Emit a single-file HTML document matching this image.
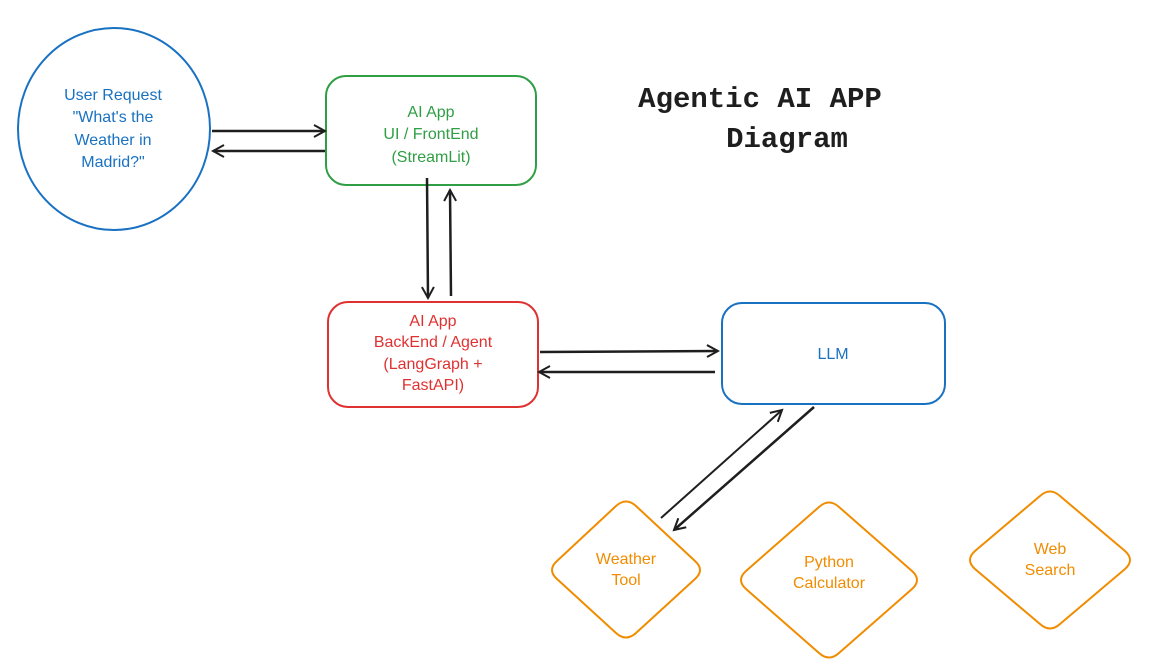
<!DOCTYPE html>
<html><head><meta charset="utf-8"><style>
html,body{margin:0;padding:0;background:#fff;}
svg{display:block}
text{font-family:"Liberation Sans",sans-serif;font-size:16px;text-anchor:middle;font-weight:500}
</style></head><body>
<svg width="1167" height="672" viewBox="0 0 1167 672" xmlns="http://www.w3.org/2000/svg">
<defs>
<marker id="a" markerWidth="14" markerHeight="14" refX="12" refY="7" orient="auto" markerUnits="userSpaceOnUse">
<path d="M1,1 L12,7 L1,13" fill="none" stroke="#1e1e1e" stroke-width="2"/>
</marker>
</defs>
<ellipse cx="114" cy="129" rx="96" ry="101" fill="none" stroke="#1971c2" stroke-width="2"/>
<g fill="#1971c2"><text x="113" y="100">User Request</text><text x="113" y="122">"What's the</text><text x="113" y="145">Weather in</text><text x="113" y="167">Madrid?"</text></g>
<rect x="326" y="76" width="210" height="109" rx="20" fill="none" stroke="#2f9e44" stroke-width="2"/>
<g fill="#2f9e44"><text x="431" y="117">AI App</text><text x="431" y="139">UI / FrontEnd</text><text x="431" y="162">(StreamLit)</text></g>
<rect x="328" y="302" width="210" height="105" rx="20" fill="none" stroke="#e03131" stroke-width="2"/>
<g fill="#e03131"><text x="433" y="326">AI App</text><text x="433" y="347">BackEnd / Agent</text><text x="433" y="369">(LangGraph +</text><text x="433" y="390">FastAPI)</text></g>
<rect x="722" y="303" width="223" height="101" rx="20" fill="none" stroke="#1971c2" stroke-width="2"/>
<text x="833" y="359" fill="#1971c2" font-size="15">LLM</text>
<g fill="none" stroke="#f08c00" stroke-width="2" stroke-linejoin="round">
<path d="M616,506 Q626,497 636,506 L695,561 Q705,570 695,579 L636,633 Q626,642 616,633 L557,579 Q547,570 557,561 Z"/>
<path d="M819,507 Q829,498 839,507 L912,571 Q922,580 912,589 L839,653 Q829,662 819,653 L746,589 Q736,580 746,571 Z"/>
<path d="M1040,496 Q1050,487 1060,496 L1125,551 Q1135,560 1125,569 L1060,624 Q1050,633 1040,624 L975,569 Q965,560 975,551 Z"/>
</g>
<g fill="#f08c00"><text x="626" y="564">Weather</text><text x="626" y="585">Tool</text>
<text x="829" y="567">Python</text><text x="829" y="588">Calculator</text>
<text x="1050" y="554">Web</text><text x="1050" y="575">Search</text></g>
<text x="760" y="107" style="font-size:29px;font-family:'Liberation Mono',monospace;font-weight:bold" fill="#1e1e1e">Agentic AI APP</text>
<text x="787" y="147" style="font-size:29px;font-family:'Liberation Mono',monospace;font-weight:bold" fill="#1e1e1e">Diagram</text>
<g stroke="#1e1e1e" stroke-width="2.5" fill="none" marker-end="url(#a)">
<line x1="212" y1="131" x2="325" y2="131"/>
<line x1="325" y1="151" x2="213" y2="151"/>
<line x1="427" y1="178" x2="428" y2="298"/>
<line x1="451" y1="296" x2="450" y2="190"/>
<line x1="540" y1="352" x2="718" y2="351"/>
<line x1="715" y1="372" x2="539" y2="372"/>
<line x1="661" y1="518" x2="782" y2="410" stroke-width="2"/>
<line x1="814" y1="407" x2="674" y2="530"/>
</g>
</svg>
</body></html>
